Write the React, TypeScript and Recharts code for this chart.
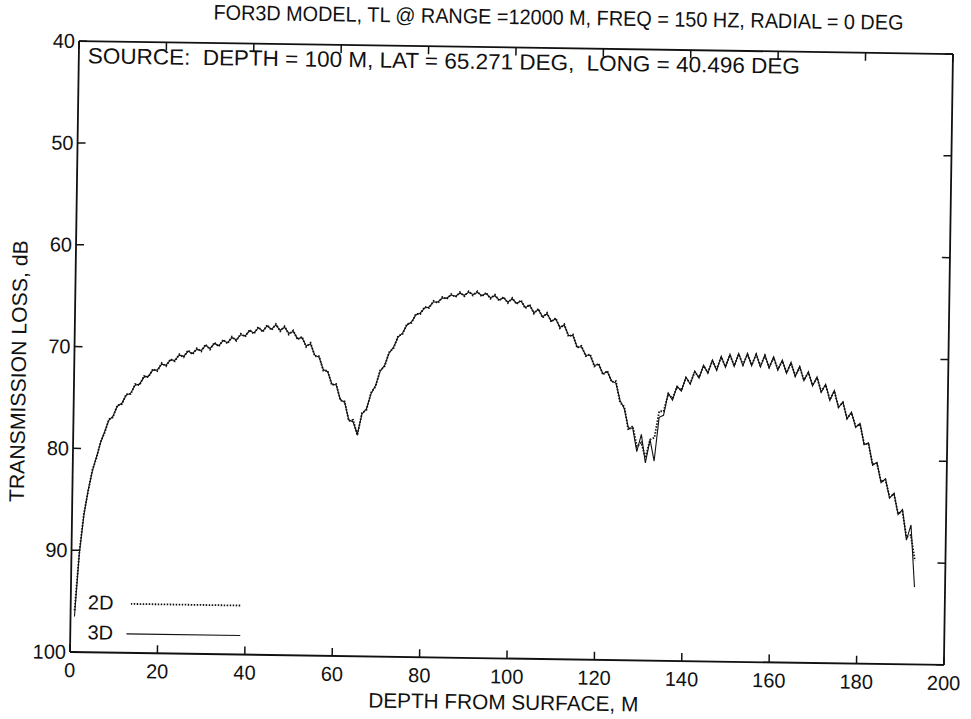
import React from 'react';
import { LineChart, Line, XAxis, YAxis, Legend } from 'recharts';

// Depth below surface (m)
const DEPTH_M = [
  0.9, 1.8, 2.7, 3.6, 4.5, 5.4, 6.3, 7.2, 8.1,
  9, 10, 11, 12, 13, 14, 15, 16, 17, 18, 19, 20,
  21, 22, 23, 24, 25, 26, 27, 28, 29, 30, 31, 32, 33, 34, 35, 36, 37, 38, 39, 40,
  41, 42, 43, 44, 45, 46, 47, 48, 49, 50, 51, 52, 53, 54, 55, 56, 57, 58, 59, 60,
  61, 62, 63, 64, 65, 66, 67, 68, 69, 70, 71, 72, 73, 74, 75, 76, 77, 78, 79, 80,
  81, 82, 83, 84, 85, 86, 87, 88, 89, 90, 91, 92, 93, 94, 95, 96, 97, 98, 99, 100,
  101, 102, 103, 104, 105, 106, 107, 108, 109, 110, 111, 112, 113, 114, 115, 116, 117, 118, 119, 120,
  121, 122, 123, 124, 125, 126, 127, 128, 129, 130, 131, 132, 133, 134, 135, 136, 137, 138, 139, 140,
  141, 142, 143, 144, 145, 146, 147, 148, 149, 150, 151, 152, 153, 154, 155, 156, 157, 158, 159, 160,
  161, 162, 163, 164, 165, 166, 167, 168, 169, 170, 171, 172, 173, 174, 175, 176, 177, 178, 179, 180,
  181, 182, 183, 184, 185, 186, 187, 188, 189, 190, 191, 192, 193,
];

// Transmission loss, 2D model (dB)
const TL_2D = [
  95.9, 90.2, 86.4, 84.2, 82.1, 80.9, 79.3, 78.4, 77.1, 76.9,
  75.7, 75.6, 74.6, 74.6, 73.6, 73.7, 72.8, 72.9, 72.1, 72.3,
  71.5, 71.8, 71.1, 71.3, 70.6, 70.9, 70.2, 70.6, 70.0, 70.3,
  69.6, 70.1, 69.4, 69.8, 69.1, 69.5, 68.8, 69.2, 68.5, 68.8,
  68.1, 68.5, 67.8, 68.3, 67.6, 68.1, 67.5, 68.2, 67.7, 68.5,
  68.1, 69.0, 68.7, 69.7, 69.3, 70.6, 70.6, 72.0, 72.0, 73.4,
  73.3, 74.9, 75.0, 76.9, 76.8, 78.3, 76.1, 75.8, 74.1, 73.5,
  71.9, 71.5, 70.1, 69.7, 68.5, 68.3, 67.3, 67.2, 66.3, 66.3,
  65.6, 65.7, 65.0, 65.2, 64.6, 64.8, 64.3, 64.6, 64.1, 64.5,
  64.0, 64.4, 64.0, 64.5, 64.1, 64.7, 64.3, 64.9, 64.5, 65.1,
  64.6, 65.2, 64.8, 65.6, 65.2, 66.1, 65.6, 66.5, 66.0, 66.9,
  66.5, 67.5, 67.1, 68.3, 68.1, 69.4, 69.2, 70.2, 70.0, 71.2,
  70.9, 72.0, 71.6, 72.7, 72.6, 74.7, 75.1, 77.4, 77.0, 79.0,
  78.6, 80.1, 78.3, 78.1, 75.5, 75.5, 73.8, 74.2, 73.1, 73.4,
  72.2, 72.7, 71.6, 72.1, 71.0, 71.6, 70.5, 71.3, 70.1, 71.0,
  69.9, 70.9, 69.8, 70.8, 69.8, 70.8, 69.8, 70.9, 69.9, 71.0,
  70.1, 71.2, 70.4, 71.5, 70.6, 71.8, 71.0, 72.2, 71.5, 72.7,
  72.0, 73.3, 72.7, 74.1, 73.3, 74.8, 74.4, 75.9, 75.4, 76.7,
  76.5, 78.4, 78.4, 80.4, 80.3, 82.1, 81.9, 83.6, 83.3, 85.2,
  85.0, 87.5, 87.3, 89.8,
];

// Transmission loss, 3D model (dB)
const TL_3D = [
  96.5, 90.3, 86.6, 84.1, 82.2, 80.8, 79.4, 78.3, 77.2, 76.8,
  75.8, 75.5, 74.7, 74.5, 73.7, 73.6, 72.9, 72.8, 72.2, 72.2,
  71.6, 71.7, 71.2, 71.2, 70.7, 70.8, 70.3, 70.5, 70.1, 70.2,
  69.7, 70.0, 69.5, 69.7, 69.2, 69.4, 68.9, 69.1, 68.6, 68.7,
  68.2, 68.4, 67.9, 68.2, 67.7, 68.0, 67.6, 68.1, 67.8, 68.4,
  68.2, 68.9, 68.8, 69.6, 69.4, 70.5, 70.7, 71.9, 72.1, 73.3,
  73.4, 74.8, 75.1, 76.8, 77.0, 78.2, 76.2, 75.7, 74.2, 73.4,
  72.0, 71.4, 70.2, 69.6, 68.6, 68.2, 67.4, 67.1, 66.4, 66.2,
  65.7, 65.6, 65.1, 65.1, 64.7, 64.7, 64.4, 64.5, 64.2, 64.4,
  64.1, 64.3, 64.1, 64.4, 64.2, 64.6, 64.4, 64.8, 64.6, 65.0,
  64.7, 65.1, 64.9, 65.5, 65.3, 66.0, 65.7, 66.4, 66.1, 66.8,
  66.6, 67.4, 67.2, 68.2, 68.2, 69.3, 69.3, 70.1, 70.1, 71.1,
  71.0, 71.9, 71.7, 72.6, 72.8, 74.5, 75.3, 77.2, 77.2, 79.5,
  77.8, 80.6, 78.3, 80.4, 76.1, 75.9, 73.7, 74.4, 73.0, 73.5,
  72.1, 72.8, 71.5, 72.2, 70.9, 71.7, 70.4, 71.4, 70.0, 71.1,
  69.8, 71.0, 69.7, 70.9, 69.7, 70.9, 69.7, 71.0, 69.8, 71.1,
  70.0, 71.3, 70.3, 71.6, 70.5, 71.9, 70.9, 72.3, 71.4, 72.8,
  71.9, 73.4, 72.6, 74.2, 73.2, 74.9, 74.3, 76.0, 75.3, 76.8,
  76.4, 78.5, 78.3, 80.5, 80.2, 82.2, 81.8, 83.7, 83.2, 85.3,
  84.8, 87.8, 86.3, 92.4,
];

const X_TICKS = [0, 20, 40, 60, 80, 100, 120, 140, 160, 180, 200];
const Y_TICKS = [40, 50, 60, 70, 80, 90, 100];
const SERIES_NAMES = ['2D', '3D'];

const TITLE = 'FOR3D MODEL, TL @ RANGE =12000 M, FREQ = 150 HZ, RADIAL = 0 DEG';
const SOURCE_NOTE = 'SOURCE:  DEPTH = 100 M, LAT = 65.271 DEG,  LONG = 40.496 DEG';
const X_LABEL = 'DEPTH FROM SURFACE, M';
const Y_LABEL = 'TRANSMISSION LOSS, dB';

const data = DEPTH_M.map((d, i) => ({ depth: d, tl2d: TL_2D[i], tl3d: TL_3D[i] }));

const FONT = '"Liberation Sans", Arial, Helvetica, sans-serif';
const FS = 20;
const TICK_LEN = 8;
const INK = '#111';
// the scanned page is slightly rotated clockwise
const PAGE_TILT = 'rotate(0.85deg)';

const BottomTick = (p: any) => (
  <g>
    <line x1={p.x} y1={p.y} x2={p.x} y2={p.y - TICK_LEN} stroke={INK} strokeWidth={1.5} />
    <text x={p.x} y={p.y + 25} textAnchor="middle" fontSize={FS} fontFamily={FONT} fill={INK}>
      {p.payload.value}
    </text>
  </g>
);
const TopTick = (p: any) => (
  <line x1={p.x} y1={p.y} x2={p.x} y2={p.y + TICK_LEN} stroke={INK} strokeWidth={1.5} />
);
const LeftTick = (p: any) => (
  <g>
    <line x1={p.x} y1={p.y} x2={p.x + TICK_LEN} y2={p.y} stroke={INK} strokeWidth={1.5} />
    <text x={p.x - 4} y={p.y + 7} textAnchor="end" fontSize={FS} fontFamily={FONT} fill={INK}>
      {p.payload.value}
    </text>
  </g>
);
const RightTick = (p: any) => (
  <line x1={p.x} y1={p.y} x2={p.x - TICK_LEN} y2={p.y} stroke={INK} strokeWidth={1.5} />
);

const LegendBox = (props: any) => {
  const items = [...(props.payload || [])].sort(
    (a: any, b: any) => SERIES_NAMES.indexOf(a.value) - SERIES_NAMES.indexOf(b.value)
  );
  return (
    <div style={{ position: 'relative', width: 170, height: 60, fontFamily: FONT, fontSize: FS, color: INK }}>
      {items.map((it: any, i: number) => (
        <div key={it.value} style={{ position: 'absolute', left: 0, top: i * 30, height: 30, width: 170 }}>
          <span style={{ position: 'absolute', left: 0, width: 36, top: 3, textAlign: 'center', lineHeight: '24px' }}>
            {it.value}
          </span>
          <svg width={116} height={30} style={{ position: 'absolute', left: it.value === '2D' ? 48 : 44, top: 0 }}>
            <line
              x1={0}
              y1={16}
              x2={it.value === '2D' ? 110 : 114}
              y2={16}
              stroke={INK}
              strokeWidth={it.value === '2D' ? 1.8 : 1.2}
              strokeDasharray={it.value === '2D' ? '1.5 1.5' : undefined}
            />
          </svg>
        </div>
      ))}
    </div>
  );
};

export default function App() {
  return (
    <div
      style={{
        position: 'absolute',
        left: 0,
        top: 0,
        width: 971,
        height: 719,
        background: '#fff',
        transform: PAGE_TILT,
        transformOrigin: '70px 652px',
      }}
    >
      <LineChart width={971} height={719} data={data} margin={{ top: 0, right: 0, bottom: 0, left: 0 }}>
        <XAxis
          xAxisId="bottom"
          dataKey="depth"
          type="number"
          domain={[0, 200]}
          ticks={X_TICKS}
          allowDataOverflow
          orientation="bottom"
          height={67}
          tickSize={0}
          tickMargin={0}
          tickLine={false}
          axisLine={{ stroke: INK, strokeWidth: 1.8 }}
          tick={(p: any) => <BottomTick {...p} />}
          interval={0}
        />
        <XAxis
          xAxisId="top"
          dataKey="depth"
          type="number"
          domain={[0, 200]}
          ticks={X_TICKS}
          allowDataOverflow
          orientation="top"
          height={41}
          tickSize={0}
          tickMargin={0}
          tickLine={false}
          axisLine={{ stroke: INK, strokeWidth: 1.8 }}
          tick={(p: any) => <TopTick {...p} />}
          interval={0}
        />
        <YAxis
          yAxisId="left"
          type="number"
          domain={[40, 100]}
          ticks={Y_TICKS}
          reversed
          allowDataOverflow
          orientation="left"
          width={70}
          tickSize={0}
          tickMargin={0}
          tickLine={false}
          axisLine={{ stroke: INK, strokeWidth: 1.8 }}
          tick={(p: any) => <LeftTick {...p} />}
          interval={0}
        />
        <YAxis
          yAxisId="right"
          type="number"
          domain={[40, 100]}
          ticks={Y_TICKS}
          reversed
          allowDataOverflow
          orientation="right"
          width={27}
          tickSize={0}
          tickMargin={0}
          tickLine={false}
          axisLine={{ stroke: INK, strokeWidth: 1.8 }}
          tick={(p: any) => <RightTick {...p} />}
          interval={0}
        />
        <Line
          name="3D"
          xAxisId="bottom"
          yAxisId="left"
          dataKey="tl3d"
          type="linear"
          stroke={INK}
          strokeWidth={1.1}
          dot={false}
          isAnimationActive={false}
        />
        <Line
          name="2D"
          xAxisId="bottom"
          yAxisId="left"
          dataKey="tl2d"
          type="linear"
          stroke={INK}
          strokeWidth={1.8}
          strokeDasharray="1.5 1.5"
          dot={false}
          isAnimationActive={false}
        />
        <Legend
          layout="horizontal"
          verticalAlign="middle"
          align="center"
          content={(p: any) => <LegendBox {...p} />}
          wrapperStyle={{ left: 82, top: 587, width: 170, height: 60 }}
        />
      </LineChart>
      <svg
        width={971}
        height={719}
        style={{ position: 'absolute', left: 0, top: 0, pointerEvents: 'none' }}
        fontFamily={FONT}
        fill={INK}
      >
        <text x={549} y={17.5} textAnchor="middle" fontSize={21} textLength={690} lengthAdjust="spacingAndGlyphs">
          {TITLE}
        </text>
        <text x={435} y={63} textAnchor="middle" fontSize={22} textLength={712} lengthAdjust="spacingAndGlyphs" style={{ whiteSpace: 'pre' }}>
          {SOURCE_NOTE}
        </text>
        <text x={504} y={703} textAnchor="middle" fontSize={21} textLength={270} lengthAdjust="spacingAndGlyphs">
          {X_LABEL}
        </text>
        <text
          transform="translate(14,372) rotate(-90)"
          x={0}
          y={7.6}
          textAnchor="middle"
          fontSize={21}
          textLength={262}
          lengthAdjust="spacingAndGlyphs"
        >
          {Y_LABEL}
        </text>
      </svg>
    </div>
  );
}
